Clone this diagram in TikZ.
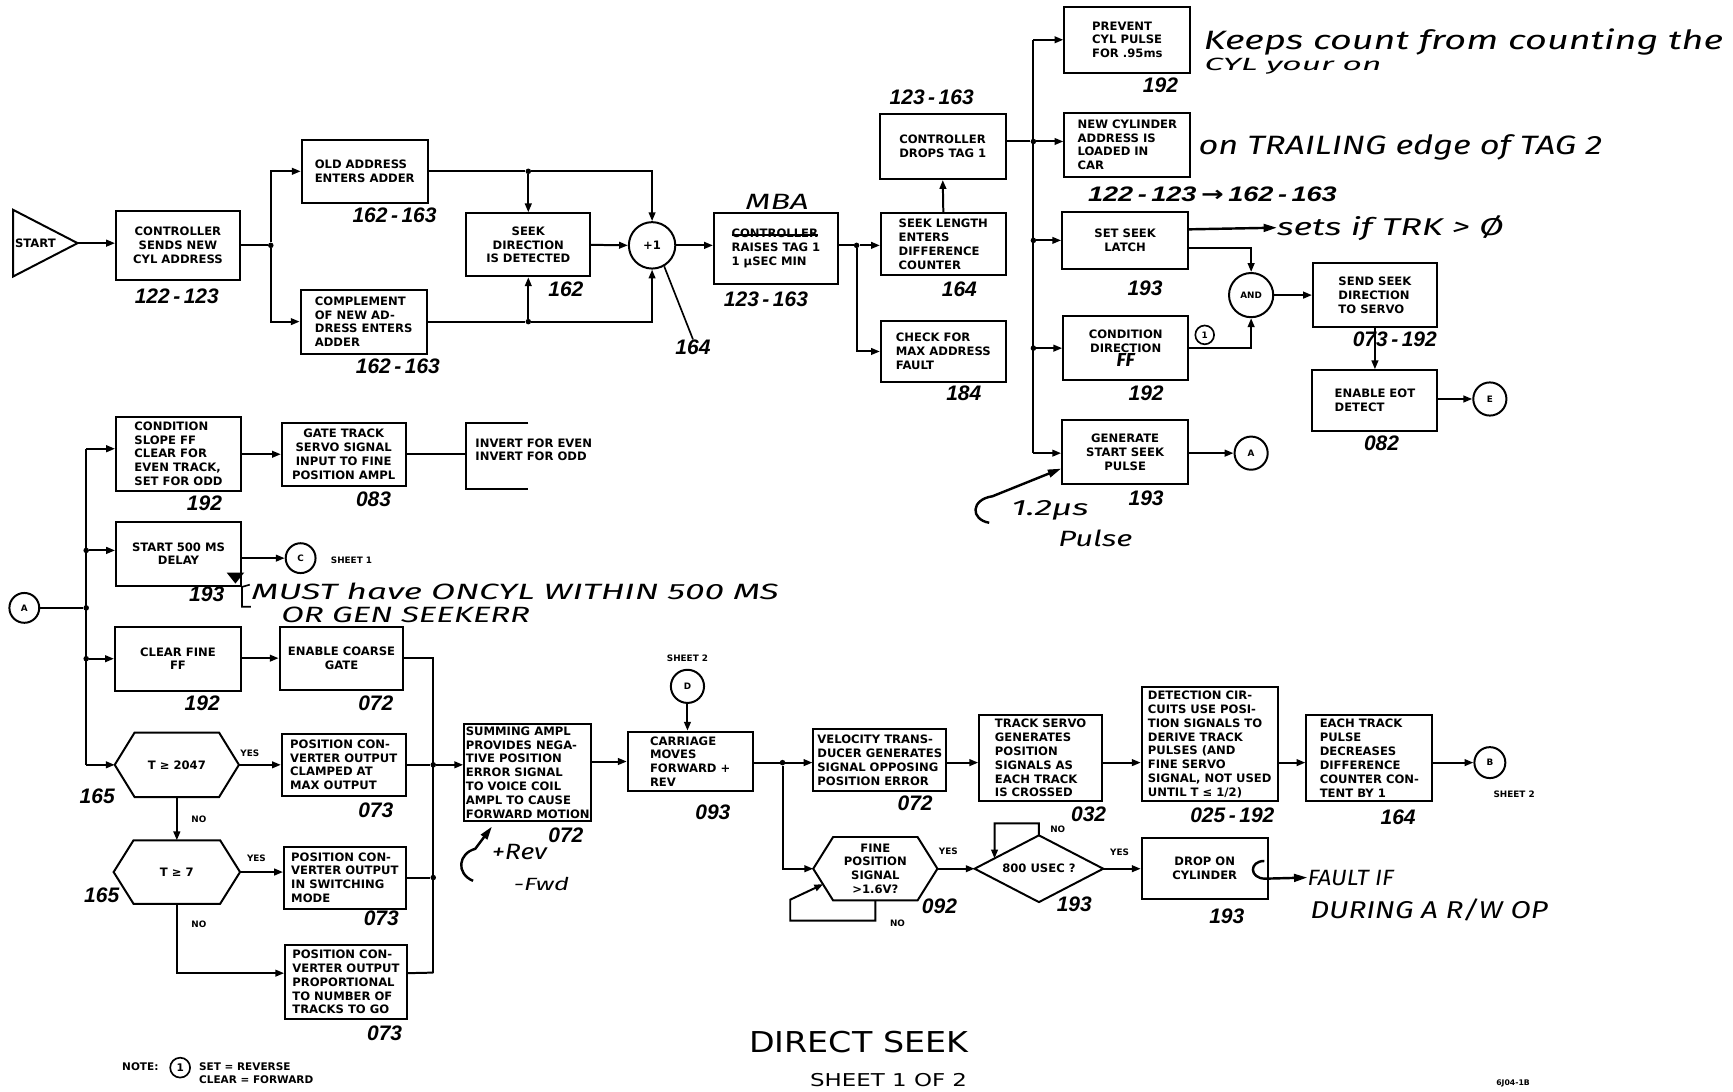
\documentclass[tikz,border=0pt]{standalone}
\usepackage{fontspec}
\setmainfont{DejaVu Sans}
\newfontfamily\numfam{Liberation Sans}
\newfontfamily\hwfam{Fira Sans}
\usepackage{graphicx}
\usetikzlibrary{arrows.meta}
\newcommand\bxf{\fontsize{10.5}{12.5}\selectfont\bfseries}
\newcommand\numf{\numfam\fontsize{19}{19}\selectfont\bfseries\itshape}
\newcommand\smf{\fontsize{8}{9.5}\selectfont\bfseries}
\newcommand\notef{\fontsize{9.5}{12}\selectfont\bfseries}
\newcommand\tinyf{\fontsize{8}{8}\selectfont\bfseries}
\newcommand\strk[1]{\setbox0\hbox{#1}\rlap{\rule[0.35ex]{\wd0}{1.2pt}}#1}
\newcommand\hw[3][22]{\resizebox{#2}{\height}{\hwfam\fontsize{#1}{#1}\selectfont\itshape #3}}
\newcommand\hexdraw[2]{\draw[ln] (#1.west) -- ([xshift=#2]#1.north west) -- ([xshift=-#2]#1.north east) -- (#1.east) -- ([xshift=-#2]#1.south east) -- ([xshift=#2]#1.south west) -- cycle;}
\tikzset{
  box/.style={draw, line width=1.8pt, font=\bxf, align=left, inner sep=2pt},
  sz/.style 2 args={minimum width=#1pt, minimum height=#2pt},
  hexn/.style={inner sep=0pt, font=\bxf, align=center},
  ln/.style={line width=1.8pt},
  ar/.style={line width=1.8pt, -{Triangle[length=8pt,width=6pt]}},
  harr/.style={line width=2.2pt, -{Triangle[length=12pt,width=7pt]}},
  dot/.style={circle, fill, inner sep=0pt, minimum size=5pt},
  lbl/.style={font=\numf, inner sep=0pt},
  hwt/.style={inner sep=0pt},
  conn/.style={circle, draw, line width=1.8pt, inner sep=0pt, font=\tinyf},
  smalltxt/.style={font=\smf, inner sep=0pt}
}
\begin{document}
\begin{tikzpicture}[x=1pt,y=-1pt]
\fill[white] (0,0) rectangle (1568,988);
\useasboundingbox (0,0) rectangle (1568,988);

% ---------------- top row ----------------
\node[inner sep=0pt, minimum width=58pt, minimum height=60pt] (start) at (41,220) {};
\draw[ln] (start.north west) -- (start.east) -- (start.south west) -- cycle;
\node[font=\bxf, inner sep=0pt] (starttxt) at (32,220) {START};

\node[box,sz={112}{62},align=center] (ctl) at (161,222) {CONTROLLER\\SENDS NEW\\CYL ADDRESS};
\node[box,sz={114}{57}] (old) at (330,155) {OLD ADDRESS\\ENTERS ADDER};
\node[box,sz={114}{58}] (comp) at (329,291) {COMPLEMENT\\OF NEW AD-\\DRESS ENTERS\\ADDER};
\node[box,sz={112}{57},align=center] (seekdir) at (478,221.5) {SEEK\\DIRECTION\\IS DETECTED};
\node[conn,minimum size=42pt,font=\bxf] (sum1) at (590,222) {+1};
\node[box,sz={112}{64}] (raise) at (702,225) {\strk{CONTROLLER}\\RAISES TAG 1\\1 μSEC MIN};
\node[box,sz={113}{56}] (seeklen) at (853.5,221) {SEEK LENGTH\\ENTERS\\DIFFERENCE\\COUNTER};
\node[box,sz={113}{56}] (chk) at (853.5,318) {CHECK FOR\\MAX ADDRESS\\FAULT};
\node[box,sz={114}{59}] (drops) at (853,132.5) {CONTROLLER\\DROPS TAG 1};
\node[box,sz={114}{60}] (prev) at (1020,36) {PREVENT\\CYL PULSE\\FOR .95ms};
\node[box,sz={114}{58}] (newcyl) at (1020,131) {NEW CYLINDER\\ADDRESS IS\\LOADED IN\\CAR};
\node[box,sz={114}{51},align=center] (setseek) at (1018,217.5) {SET SEEK\\LATCH};
\node[box,sz={113}{58},align=center] (cdir) at (1018.5,315) {CONDITION\\DIRECTION\\{\hwfam\itshape\fontsize{17}{12}\selectfont FF}};
\node[box,sz={114}{58},align=center] (gen) at (1018,409) {GENERATE\\START SEEK\\PULSE};
\node[conn,minimum size=40pt] (and) at (1132,267) {AND};
\node[conn,minimum size=17pt,line width=1.5pt] (one) at (1090,303) {1};
\node[box,sz={112}{58}] (sendseek) at (1244,267) {SEND SEEK\\DIRECTION\\TO SERVO};
\node[box,sz={113}{55}] (eot) at (1244,362.5) {ENABLE EOT\\DETECT};
\node[conn,minimum size=30pt] (E) at (1348,361) {E};
\node[conn,minimum size=30pt] (Ag) at (1132,410) {A};

\node[dot] (j1) at (245,222) {};
\node[dot] (j2) at (478,155) {};
\node[dot] (j3) at (478,291) {};
\node[dot] (j4) at (775,222) {};
\node[dot] (j5) at (935,128) {};
\node[dot] (j6) at (935,217.5) {};
\node[dot] (j7) at (935,315) {};
\coordinate (bt) at (935,36);
\coordinate (bb) at (935,410);

\draw[ar] (start.east) -- (ctl.west |- start.east);
\draw[ln] (ctl.east |- j1) -- (j1);
\draw[ar] (j1) |- (old.west);
\draw[ar] (j1) |- (comp.west);
\draw[ln] (old.east) -- (j2);
\draw[ar] (j2) -- (seekdir.north);
\draw[ar] (j2) -| (sum1.north);
\draw[ln] (comp.east) -- (j3);
\draw[ar] (j3) -- (seekdir.south);
\draw[ar] (j3) -| (sum1.south);
\draw[ar] (seekdir.east) -- (sum1.west);
\draw[ar] (sum1.east) -- (raise.west |- sum1.east);
\draw[ln] (raise.east |- j4) -- (j4);
\draw[ar] (j4) -- (seeklen.west |- j4);
\draw[ar] (j4) |- (chk.west);
\draw[ar] (seeklen.north) -- (drops.south);
\draw[ln] (drops.east |- j5) -- (j5);
\draw[ln] (bt) -- (bb);
\draw[ar] (bt) -- (prev.west |- bt);
\draw[ar] (j5) -- (newcyl.west |- j5);
\draw[ar] (j6) -- (setseek.west |- j6);
\draw[ar] (j7) -- (cdir.west |- j7);
\draw[ar] (bb) -- (gen.west |- bb);
\draw[ar] ([yshift=-7pt]setseek.east) -| (and.north);
\draw[ar] (cdir.east) -| (and.south);
\draw[ar] (and.east) -- (sendseek.west |- and.east);
\draw[ar] (sendseek.south) -- (eot.north);
\draw[ar] (eot.east |- E) -- (E.west);
\draw[ar] (gen.east |- Ag) -- (Ag.west);

% labels top
\node[lbl] (lctl) at (160,268) {122\,-\,123};
\node[lbl] (lold) at (357,195) {162\,-\,163};
\node[lbl] (lcomp) at (360,331) {162\,-\,163};
\node[lbl] (lseekdir) at (512,262) {162};
\node[lbl] (l164a) at (627,314) {164};
\draw[line width=1.5pt] (sum1.-60) -- (l164a.north);
\node[lbl] (lraise) at (693,271) {123\,-\,163};
\node[lbl] (ldrops) at (843,88) {123\,-\,163};
\node[lbl] (lseeklen) at (868,262) {164};
\node[lbl] (lchk) at (872,356) {184};
\node[lbl] (lprev) at (1050,77) {192};
\node[lbl] (lnewcyl) at (1097,176) {\resizebox{225pt}{\height}{122\,-\,123\,{\rmfamily\bfseries →}\,162\,-\,163}};
\node[lbl] (lsetseek) at (1036,261) {193};
\node[lbl] (lcdir) at (1037,356) {192};
\node[lbl] (lgen) at (1037,451) {193};
\node[lbl] (lsendseek) at (1262,307) {073\,-\,192};
\node[lbl] (leot) at (1250,401) {082};

% handwritten notes top
\node[hwt] (mba) at (703,183) {\hw[20]{57pt}{MBA}};
\node[hwt] (keeps) at (1324,38) {\hw[24]{470pt}{Keeps count from counting the}};
\node[hwt] (cylyour) at (1170,60) {\hw[16]{160pt}{CYL your on}};
\node[hwt] (trailing) at (1267,133) {\hw[24]{365pt}{on TRAILING edge of TAG 2}};
\node[hwt] (sets) at (1258,206) {\hw[22]{205pt}{sets if TRK > Ø}};
\draw[harr] ([yshift=10pt]setseek.east) -- (sets.west);
\node[hwt] (us12) at (950,462) {\hw[20]{70pt}{1.2μs}};
\node[hwt] (pulse) at (991,487) {\hw[20]{67pt}{Pulse}};
\coordinate (curl1) at (895,473);
\draw[harr] (curl1) .. controls (878,470) and (878,452) .. (898,449) -- ([yshift=-15pt]gen.west);

% ---------------- left middle ----------------
\node[conn,minimum size=27pt] (A2) at (22,550) {A};
\node[box,sz={113}{67}] (slope) at (161.5,410.5) {CONDITION\\SLOPE FF\\CLEAR FOR\\EVEN TRACK,\\SET FOR ODD};
\node[box,sz={112}{57},align=center] (gate) at (311,411) {GATE TRACK\\SERVO SIGNAL\\INPUT TO FINE\\POSITION AMPL};
\node[font=\bxf, anchor=west, align=left, inner sep=0pt] (inv) at (430,407) {INVERT FOR EVEN\\INVERT FOR ODD};
\draw[ln] (478,383) -- (422,383) -- (422,442) -- (478,442);
\coordinate (brk) at (422,411);
\node[box,sz={113}{58},align=center] (delay) at (161.5,501) {START 500 MS\\DELAY};
\node[conn,minimum size=27pt] (C) at (272,505) {C};
\node[smalltxt] (sh1) at (318,507) {SHEET 1};
\node[box,sz={114}{58},align=center] (clrfine) at (161,596) {CLEAR FINE\\FF};
\node[box,sz={112}{57},align=center] (coarse) at (309,595.5) {ENABLE COARSE\\GATE};
\node[hexn,sz={112}{58}] (hex1) at (160,692) {T ≥ 2047};
\hexdraw{hex1}{18pt}
\node[hexn,sz={114}{57}] (hex2) at (160,789) {T ≥ 7};
\hexdraw{hex2}{18pt}
\node[box,sz={112}{56}] (pc1) at (311,692) {POSITION CON-\\VERTER OUTPUT\\CLAMPED AT\\MAX OUTPUT};
\node[box,sz={110}{56}] (pc2) at (312,794) {POSITION CON-\\VERTER OUTPUT\\IN SWITCHING\\MODE};
\node[box,sz={110}{67}] (pc3) at (313,888.5) {POSITION CON-\\VERTER OUTPUT\\PROPORTIONAL\\TO NUMBER OF\\TRACKS TO GO};
\node[box,sz={115}{88},inner sep=1pt] (summ) at (477.5,699) {SUMMING AMPL\\PROVIDES NEGA-\\TIVE POSITION\\ERROR SIGNAL\\TO VOICE COIL\\AMPL TO CAUSE\\FORWARD MOTION};
\node[box,sz={113}{54}] (carr) at (624.5,689) {CARRIAGE\\MOVES\\FORWARD +\\REV};
\node[conn,minimum size=30pt] (D) at (622,621) {D};
\node[smalltxt] (sh2a) at (622,596) {SHEET 2};
\node[box,sz={120}{56},inner sep=1pt] (velo) at (796,688) {VELOCITY TRANS-\\DUCER GENERATES\\SIGNAL OPPOSING\\POSITION ERROR};
\node[box,sz={111}{78}] (trk) at (941.5,686) {TRACK SERVO\\GENERATES\\POSITION\\SIGNALS AS\\EACH TRACK\\IS CROSSED};
\node[box,sz={123}{103},inner sep=1pt] (det) at (1094.5,673.5) {DETECTION CIR-\\CUITS USE POSI-\\TION SIGNALS TO\\DERIVE TRACK\\PULSES (AND\\FINE SERVO\\SIGNAL, NOT USED\\UNTIL T ≤ 1/2)};
\node[box,sz={114}{78}] (each) at (1239,686) {EACH TRACK\\PULSE\\DECREASES\\DIFFERENCE\\COUNTER CON-\\TENT BY 1};
\node[conn,minimum size=28pt] (B) at (1348,690) {B};
\node[smalltxt] (sh2b) at (1370,719) {SHEET 2};
\node[hexn,sz={112}{57}] (fine) at (792,786) {FINE\\POSITION\\SIGNAL\\>1.6V?};
\hexdraw{fine}{18pt}
\node[hexn,sz={116}{60}] (d800) at (940,786) {800 USEC ?};
\draw[ln] (d800.west) -- (d800.north) -- (d800.east) -- (d800.south) -- cycle;
\node[box,sz={114}{55},align=center] (dropcyl) at (1090,785.5) {DROP ON\\CYLINDER};

\node[dot] (j8) at (78,550) {};
\node[dot] (j9) at (78,498) {};
\node[dot] (j10) at (78,596) {};
\node[dot] (j11) at (392,692) {};
\node[dot] (j12) at (392,794) {};
\node[dot] (j13) at (708,690) {};
\coordinate (lbt) at (78,406);
\coordinate (lbb) at (78,692);
\coordinate (rbb) at (392,880);
\coordinate (fl2) at (715,833);
\coordinate (fl3) at (715,814);
\coordinate (dl1) at (900,745);

\draw[ln] (A2.east) -- (j8);
\draw[ln] (lbt) -- (lbb);
\draw[ar] (lbt) -- (slope.west |- lbt);
\draw[ar] (j9) -- (delay.west |- j9);
\draw[ar] (j10) -- (clrfine.west |- j10);
\draw[ar] (lbb) -- (hex1.west);
\draw[ar] (slope.east |- gate.west) -- (gate.west);
\draw[ln] (gate.east) -- (brk);
\draw[ar] (delay.east |- C) -- (C.west);
\draw[ar] (clrfine.east |- coarse.west) -- (coarse.west);
\draw[ln] (coarse.east) -| (rbb);
\draw[ar] (hex1.east) -- (pc1.west |- hex1.east);
\draw[ar] (hex1.south) -- (hex2.north);
\draw[ar] (hex2.east) -- (pc2.west |- hex2.east);
\draw[ar] (hex2.south) |- ([yshift=8pt]pc3.west);
\draw[ln] (pc1.east) -- (j11);
\draw[ln] (pc2.east) -- (j12);
\draw[ln] ([yshift=8pt]pc3.east) -- (rbb);
\draw[ar] (j11) -- (summ.west |- j11);
\draw[ar] (summ.east |- carr.west) -- (carr.west);
\draw[ar] (D.south) -- (D.south |- carr.north);
\draw[ln] (carr.east |- j13) -- (j13);
\draw[ar] (j13) -- (velo.west |- j13);
\draw[ar] (velo.east |- j13) -- (trk.west |- j13);
\draw[ar] (trk.east |- j13) -- (det.west |- j13);
\draw[ar] (det.east |- j13) -- (each.west |- j13);
\draw[ar] (each.east |- B) -- (B.west);
\draw[ar] (j13) |- (fine.west);
\draw[ar] (fine.south) |- (fl2) -- (fl3) -- ([xshift=9pt,yshift=-14pt]fine.west);
\draw[ar] (fine.east) -- (d800.west);
\draw[ar] (d800.north) |- (dl1) -- ([xshift=18pt,yshift=9.3pt]d800.west);
\draw[ar] (d800.east) -- (dropcyl.west |- d800.east);

% small labels
\node[smalltxt] (yes1) at (226,682) {YES};
\node[smalltxt] (no1) at (180,741) {NO};
\node[smalltxt] (yes2) at (232,777) {YES};
\node[smalltxt] (no2) at (180,836) {NO};
\node[smalltxt] (yes3) at (858,770) {YES};
\node[smalltxt] (no3) at (812,835) {NO};
\node[smalltxt] (no4) at (957,750) {NO};
\node[smalltxt] (yes4) at (1013,771) {YES};

% number labels lower
\node[lbl] (lslope) at (185,455) {192};
\node[lbl] (lgate) at (338,452) {083};
\node[lbl] (ldelay) at (187,538) {193};
\node[lbl] (lclr) at (183,636) {192};
\node[lbl] (lcoarse) at (340,636) {072};
\node[lbl] (lhex1) at (88,720) {165};
\node[lbl] (lpc1) at (340,733) {073};
\node[lbl] (lhex2) at (92,810) {165};
\node[lbl] (lpc2) at (345,831) {073};
\node[lbl] (lpc3) at (348,935) {073};
\node[lbl] (lsumm) at (512,756) {072};
\node[lbl] (lcarr) at (645,735) {093};
\node[lbl] (lvelo) at (828,727) {072};
\node[lbl] (ltrk) at (985,737) {032};
\node[lbl] (ldet) at (1115,738) {025\,-\,192};
\node[lbl] (leach) at (1265,739) {164};
\node[lbl] (lfine) at (850,820) {092};
\node[lbl] (ld800) at (972,818) {193};
\node[lbl] (ldrop) at (1110,829) {193};

% handwritten lower
\fill (205,518) -- (221,518) -- (213,528) -- cycle;
\draw[line width=1.5pt] (226,529) -- (219,531) -- (219,549) -- (227,549);
\node[hwt] (must) at (466,535) {\hw[20]{477pt}{MUST have ONCYL WITHIN 500 MS}};
\node[hwt] (orgen) at (367,556) {\hw[20]{225pt}{OR GEN SEEKERR}};
\node[hwt] (rev) at (470,771) {\hw[20]{50pt}{+Rev}};
\node[hwt] (fwd) at (490,800) {\hw[16]{50pt}{-Fwd}};
\coordinate (curl2) at (428,797);
\draw[harr] (curl2) .. controls (412,790) and (415,772) .. (430,768) -- ([xshift=26pt,yshift=-4pt]summ.south west);
\node[hwt] (fault) at (1222,794) {\hw[20]{78pt}{FAULT IF}};
\node[hwt] (during) at (1293,823) {\hw[22]{215pt}{DURING A R/W OP}};
\coordinate (curl3) at (1144,779);
\draw[harr] (curl3) .. controls (1130,779) and (1130,795) .. (1145,795) -- (fault.west);

% bottom
\node[hwt] (title) at (777,943) {\resizebox{198pt}{\height}{\fontsize{26}{26}\selectfont DIRECT SEEK}};
\node[hwt] (sheet) at (804,977) {\resizebox{142pt}{\height}{\fontsize{16}{16}\selectfont SHEET 1 OF 2}};
\node[inner sep=0pt,font=\notef] (note) at (127,965) {NOTE:};
\node[conn,minimum size=18pt,line width=1.5pt,font=\notef] (one2) at (163,966) {1};
\node[inner sep=0pt,font=\notef,anchor=west,align=left] (notetxt) at (180,971) {SET = REVERSE\\CLEAR = FORWARD};
\node[inner sep=0pt,font=\fontsize{7}{7}\selectfont\bfseries] (docid) at (1369,980) {6J04-1B};
\end{tikzpicture}
\end{document}
